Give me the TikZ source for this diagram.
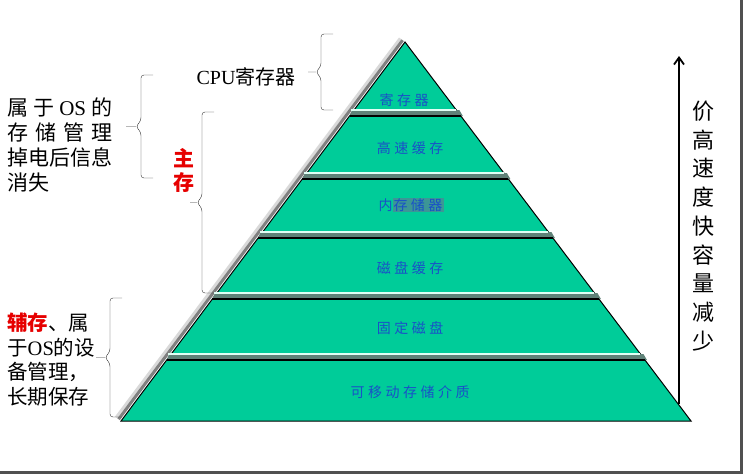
\documentclass[tikz,border=0pt]{standalone}
\usepackage{fontspec}
\setmainfont{Liberation Serif}
\newfontfamily\cjk{Noto Sans CJK SC}
\newfontfamily\cjktier[LetterSpace=25]{Noto Sans CJK SC}
\usetikzlibrary{arrows.meta,calc}
\definecolor{tiergreen}{RGB}{0,204,153}
\definecolor{tierblue}{RGB}{25,80,200}
\definecolor{tierhl}{RGB}{60,150,150}
\definecolor{strip}{RGB}{95,130,120}
\definecolor{shine}{RGB}{225,255,245}
\definecolor{slidegray}{RGB}{80,80,80}
\definecolor{keyred}{RGB}{230,0,0}
\begin{document}
\begin{tikzpicture}[x=1pt,y=-1pt,
    tier/.style={text=tierblue,font=\fontsize{14}{16}\cjktier},
    lbl/.style={inner sep=0pt,anchor=west,align=left},
    curly/.style={thin,black!80,rounded corners=3pt,
      to path={let \p1=(\tikztostart),\p2=(\tikztotarget) in
        -- (\x1-12,\y1) -- (\x1-12,{(\y1+\y2)/2+6}) -- (\x1-17,{(\y1+\y2)/2})
        -- (\x1-12,{(\y1+\y2)/2-6}) -- (\x1-12,\y2) -- (\tikztotarget)
        (\x1-17,{(\y1+\y2)/2}) -- (\x1-#1,{(\y1+\y2)/2})}}]
  \useasboundingbox (0,0) rectangle (743,474);
  \draw[slidegray,line width=3pt] (741.5,0) -- (741.5,472.5) -- (0,472.5);
  % pyramid with shadow
  \coordinate (apex) at (405,42);
  \coordinate (bl) at (121,421);
  \coordinate (br) at (691,421);
  \draw[black!15,line width=3pt] (400.2,38.4) -- (116.2,417.4);
  \draw[black!50,line width=3pt] (402.6,40.2) -- (118.6,419.2);
  \filldraw[fill=tiergreen,line width=1pt] (apex) -- (br) -- (bl) -- cycle;
  \foreach \s in {110,173,232,293,354} {
    \pgfmathsetmacro\xl{405-0.7493*(\s-42)}
    \pgfmathsetmacro\xr{405+0.7546*(\s-42)}
    \pgfmathsetmacro\xL{405-0.7493*(\s+6-42)}
    \pgfmathsetmacro\xR{405+0.7546*(\s+6-42)}
    \fill[strip] (\xl-2,\s) -- (\xr+3,\s) -- (\xR+2,\s+6) -- (\xL,\s+6) -- cycle;
    \draw[shine,line width=1.8pt] (\xl-3,\s) -- (\xr,\s);
    \draw[line width=1.2pt] (\xL,\s+6) -- (\xR,\s+6);
  }
  \node[tier] (t1) at (404,100) {寄存器};
  \node[tier] (t2) at (410,148) {高速缓存};
  \node[tier] (t3) at (411,205) {内{\fboxsep=1pt\colorbox{tierhl}{存储器}}};
  \node[tier] (t4) at (410,268) {磁盘缓存};
  \node[tier] (t5) at (410,328) {固定磁盘};
  \node[tier] (t6) at (410,392) {可移动存储介质};
  % speed arrow
  \coordinate (a0) at (679,404);
  \coordinate (a1) at (679,56);
  \draw[line width=1.8pt,-{Straight Barb[length=7pt,width=10pt]}] (a0) -- (a1);
  \node[align=center,font=\fontsize{22}{28.7}\cjk] (cost) at (703,226)
    {价\\高\\速\\度\\快\\容\\量\\减\\少};
  % left labels
  \node[font=\fontsize{20}{24}\rmfamily] (cpu) at (246,77) {CPU{\cjk 寄存器}};
  \node[lbl,font=\fontsize{21}{25}\cjk] (os) at (7,144.5)
    {\makebox[5em][s]{属\hfill 于\hfill{\rmfamily OS}\hfill 的}\\
     \makebox[5em][s]{存\hfill 储\hfill 管\hfill 理}\\
     掉电后信息\\消失};
  \node[align=center,text=keyred,font=\fontsize{21}{24}\cjk\bfseries] (main) at (184,170) {主\\存};
  \node[lbl,font=\fontsize{20.5}{24.5}\cjk] (aux) at (7,359.5)
    {{\color{keyred}\bfseries 辅存}、属\\
     于{\rmfamily OS}的设\\
     备管理，\\长期保存};
  % braces
  \coordinate (cpuTop) at (333,34);
  \coordinate (cpuBot) at (333,110);
  \coordinate (osTop) at (153,75);
  \coordinate (osBot) at (153,178);
  \coordinate (mainTop) at (214,112);
  \coordinate (mainBot) at (214,293);
  \coordinate (auxTop) at (122,298);
  \coordinate (auxBot) at (122,417);
  \draw[curly=25] (cpuTop) to (cpuBot);
  \draw[curly=27] (osTop) to (osBot);
  \draw[curly=24] (mainTop) to (mainBot);
  \draw[curly=26] (auxTop) to (auxBot);
\end{tikzpicture}
\end{document}
